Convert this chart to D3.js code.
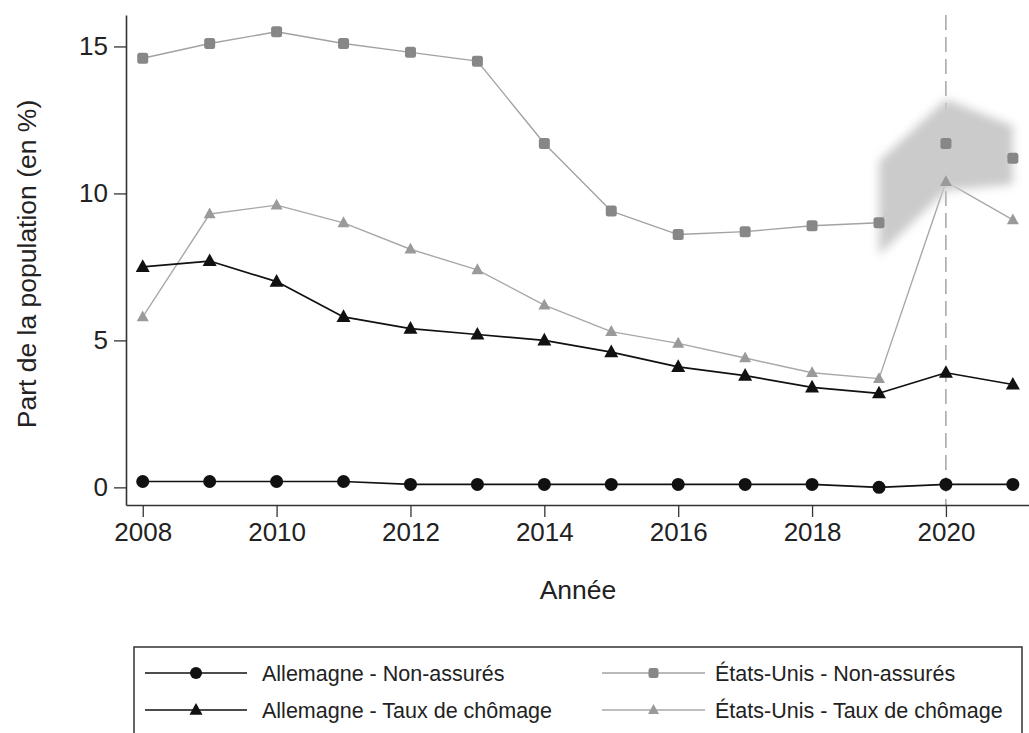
<!DOCTYPE html>
<html>
<head>
<meta charset="utf-8">
<script src="https://cdn.jsdelivr.net/npm/d3@7/dist/d3.min.js"></script>
<style>
  html, body { margin: 0; padding: 0; background: #fff; }
  svg { display: block; font-family: "Liberation Sans", Arial, Helvetica, sans-serif; }
</style>
</head>
<body>
<svg id="chart" width="1029" height="733"></svg>
<script>
// Années
const years = [2008, 2009, 2010, 2011, 2012, 2013, 2014, 2015, 2016, 2017, 2018, 2019, 2020, 2021];

// Part de la population (en %)
const deNonAssures = [0.2, 0.2, 0.2, 0.2, 0.1, 0.1, 0.1, 0.1, 0.1, 0.1, 0.1, 0.0, 0.1, 0.1];
const deChomage    = [7.5, 7.7, 7.0, 5.8, 5.4, 5.2, 5.0, 4.6, 4.1, 3.8, 3.4, 3.2, 3.9, 3.5];
const usNonAssures = [14.6, 15.1, 15.5, 15.1, 14.8, 14.5, 11.7, 9.4, 8.6, 8.7, 8.9, 9.0, 11.7, 11.2];
const usChomage    = [5.8, 9.3, 9.6, 9.0, 8.1, 7.4, 6.2, 5.3, 4.9, 4.4, 3.9, 3.7, 10.4, 9.1];

// Intervalle autour des non-assurés aux États-Unis
const bandYears = [2019, 2020, 2021];
const bandLow   = [7.9, 10.1, 10.3];
const bandHigh  = [11.1, 13.2, 12.3];

// Graduations
const xTicks = [2008, 2010, 2012, 2014, 2016, 2018, 2020];
const yTicks = [0, 5, 10, 15];
const markerYear = 2020;

const legendItems = [
  { label: "Allemagne - Non-assurés", key: "deNA" },
  { label: "Allemagne - Taux de chômage", key: "deCh" },
  { label: "États-Unis - Non-assurés", key: "usNA" },
  { label: "États-Unis - Taux de chômage", key: "usCh" }
];

const styles = {
  deNA: { line: "#111", marker: "#111", width: 1.7, shape: "circle" },
  deCh: { line: "#111", marker: "#111", width: 1.7, shape: "triangle" },
  usNA: { line: "#a2a2a2", marker: "#878787", width: 1.4, shape: "square" },
  usCh: { line: "#a8a8a8", marker: "#9a9a9a", width: 1.4, shape: "triangle" }
};

const svg = d3.select("#chart");

const x = d3.scaleLinear().domain([2007.75, 2021.25]).range([126, 1029.6]);
const y = d3.scaleLinear().domain([-0.6, 16.07]).range([505, 15]);

const defs = svg.append("defs");
defs.append("filter").attr("id", "soft")
  .attr("x", "-20%").attr("y", "-20%").attr("width", "140%").attr("height", "140%")
  .append("feGaussianBlur").attr("stdDeviation", 5);

// Ligne verticale en 2020
svg.append("line")
  .attr("x1", x(markerYear)).attr("x2", x(markerYear))
  .attr("y1", 15).attr("y2", 505)
  .attr("stroke", "#777").attr("stroke-width", 1)
  .attr("stroke-dasharray", "15,7");

const series = [
  { key: "usNA", values: usNonAssures },
  { key: "usCh", values: usChomage },
  { key: "deNA", values: deNonAssures },
  { key: "deCh", values: deChomage }
];

const line = d3.line().x((d, i) => x(years[i])).y(d => y(d));

series.forEach(s => {
  svg.append("path")
    .datum(s.values)
    .attr("fill", "none")
    .attr("stroke", styles[s.key].line)
    .attr("stroke-width", styles[s.key].width)
    .attr("stroke-linejoin", "round")
    .attr("d", line);
});

// Bande grisée
const area = d3.area()
  .x((d, i) => x(bandYears[i]))
  .y0((d, i) => y(bandLow[i]))
  .y1((d, i) => y(bandHigh[i]));
svg.append("path")
  .datum(bandYears)
  .attr("d", area)
  .attr("fill", "#cbcbcb")
  .attr("filter", "url(#soft)");

// Symboles
function drawMarker(g, shape, cx, cy, color, size) {
  if (shape === "circle") {
    g.append("circle").attr("cx", cx).attr("cy", cy).attr("r", size / 2).attr("fill", color);
  } else if (shape === "square") {
    g.append("rect").attr("x", cx - size / 2).attr("y", cy - size / 2)
      .attr("width", size).attr("height", size).attr("rx", 2.5).attr("fill", color);
  } else {
    const h = size * 0.9;
    g.append("path")
      .attr("d", `M${cx},${cy - h * 0.6} L${cx + size / 2},${cy + h * 0.4} L${cx - size / 2},${cy + h * 0.4} Z`)
      .attr("fill", color);
  }
}

const markerSize = { deNA: 13, deCh: 14, usNA: 11, usCh: 12 };
const mg = svg.append("g");
series.forEach(s => {
  s.values.forEach((v, i) => {
    drawMarker(mg, styles[s.key].shape, x(years[i]), y(v), styles[s.key].marker, markerSize[s.key]);
  });
});

// Axes
const axisColor = "#333";
const fontTick = "26px";

const gx = svg.append("g").attr("transform", "translate(0,505)")
  .call(d3.axisBottom(x).tickValues(xTicks).tickFormat(d3.format("d")).tickSize(12).tickPadding(6).tickSizeOuter(0));
const gy = svg.append("g").attr("transform", "translate(126,0)")
  .call(d3.axisLeft(y).tickValues(yTicks).tickFormat(d3.format("d")).tickSize(12).tickPadding(6).tickSizeOuter(0));

[gx, gy].forEach(g => {
  g.select(".domain").attr("stroke", axisColor).attr("stroke-width", 1.6);
  g.selectAll(".tick line").attr("stroke", axisColor).attr("stroke-width", 1.3);
  g.selectAll(".tick text").attr("fill", "#222").style("font-size", fontTick)
    .style("font-family", "'Liberation Sans', Arial, sans-serif");
});

// Titres des axes
svg.append("text")
  .attr("transform", "translate(36,264) rotate(-90)")
  .attr("text-anchor", "middle")
  .attr("fill", "#222")
  .style("font-size", "26.5px")
  .text("Part de la population (en %)");

svg.append("text")
  .attr("x", 578).attr("y", 599)
  .attr("text-anchor", "middle")
  .attr("fill", "#222")
  .style("font-size", "26.5px")
  .text("Année");

// Légende
const lg = svg.append("g");
lg.append("rect")
  .attr("x", 134).attr("y", 647).attr("width", 888).attr("height", 110)
  .attr("fill", "#fff").attr("stroke", "#333").attr("stroke-width", 1.5);

const cols = [
  { x0: 145, x1: 247, text: 262 },
  { x0: 602, x1: 705, text: 715 }
];
const rows = [673, 710];

legendItems.forEach((item, idx) => {
  const c = cols[Math.floor(idx / 2)];
  const ry = rows[idx % 2];
  const st = styles[item.key];
  lg.append("line")
    .attr("x1", c.x0).attr("x2", c.x1).attr("y1", ry).attr("y2", ry)
    .attr("stroke", st.line).attr("stroke-width", st.width);
  drawMarker(lg, st.shape, (c.x0 + c.x1) / 2, ry, st.marker, markerSize[item.key] - 1);
  lg.append("text")
    .attr("x", c.text).attr("y", ry).attr("dy", "0.35em")
    .attr("fill", "#222")
    .style("font-size", "21.5px")
    .text(item.label);
});
</script>
</body>
</html>
